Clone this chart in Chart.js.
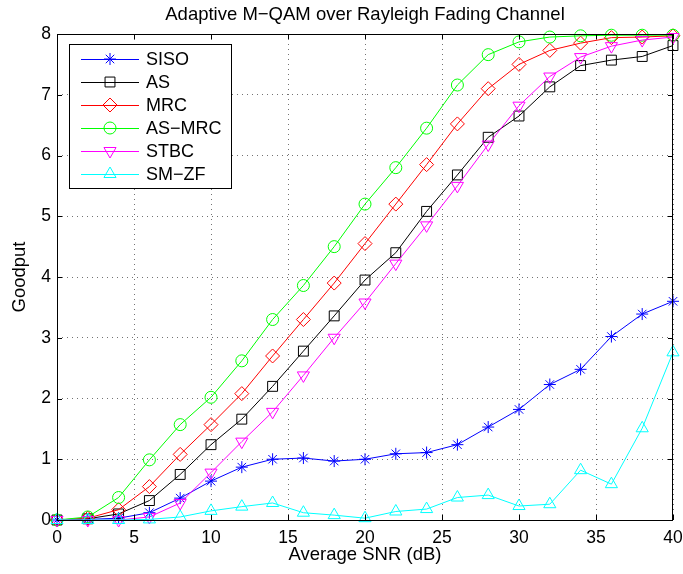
<!DOCTYPE html>
<html>
<head>
<meta charset="utf-8">
<script src="https://cdn.jsdelivr.net/npm/chart.js@4.4.1/dist/chart.umd.min.js"></script>
<style>
  html, body { margin: 0; padding: 0; background: #fff; }
  #wrap { width: 683px; height: 574px; }
</style>
</head>
<body>
<div id="wrap"><canvas id="cv" width="683" height="574"></canvas></div>
<script>
const snr = [0, 2, 4, 6, 8, 10, 12, 14, 16, 18, 20, 22, 24, 26, 28, 30, 32, 34, 36, 38, 40];

const siso  = [0, 0.01, 0.03, 0.12, 0.36, 0.64, 0.87, 1.0, 1.02, 0.97, 1.0, 1.09, 1.11, 1.24, 1.53, 1.82, 2.23, 2.48, 3.02, 3.39, 3.6];
const as    = [0, 0.02, 0.1, 0.32, 0.75, 1.24, 1.66, 2.2, 2.78, 3.36, 3.95, 4.4, 5.08, 5.68, 6.3, 6.65, 7.13, 7.48, 7.57, 7.63, 7.81];
const mrc   = [0, 0.03, 0.17, 0.55, 1.08, 1.57, 2.08, 2.7, 3.3, 3.9, 4.55, 5.2, 5.85, 6.52, 7.1, 7.5, 7.73, 7.85, 7.94, 7.95, 7.97];
const asMrc = [0, 0.05, 0.37, 0.99, 1.57, 2.02, 2.62, 3.3, 3.86, 4.5, 5.2, 5.8, 6.45, 7.16, 7.66, 7.87, 7.95, 7.97, 7.98, 7.98, 7.98];
const stbc  = [0, 0, 0, 0.05, 0.28, 0.78, 1.29, 1.78, 2.38, 3.0, 3.58, 4.22, 4.85, 5.5, 6.18, 6.82, 7.3, 7.62, 7.8, 7.9, 7.95];
const smZf  = [0, 0, 0, 0.01, 0.05, 0.15, 0.22, 0.28, 0.12, 0.08, 0.03, 0.14, 0.18, 0.37, 0.41, 0.23, 0.26, 0.82, 0.59, 1.51, 2.76];

const xTicks = [0, 5, 10, 15, 20, 25, 30, 35, 40];
const yTicks = [0, 1, 2, 3, 4, 5, 6, 7, 8];

const titleText = 'Adaptive M\u2212QAM over Rayleigh Fading Channel';
const FONT = "'Liberation Sans', Arial, Helvetica, sans-serif";

function series(label, data, color, style, radius, rotation, idx) {
  return {
    label: label,
    data: snr.map((x, i) => ({ x: x, y: data[i] })),
    borderColor: color,
    backgroundColor: color,
    pointBorderColor: color,
    pointBackgroundColor: 'rgba(0,0,0,0)',
    borderWidth: 1,
    pointBorderWidth: 1,
    pointStyle: style,
    pointRadius: radius,
    pointRotation: rotation,
    pointHoverRadius: radius,
    tension: 0,
    clip: false,
    order: -idx
  };
}

const datasets = [
  series('SISO', siso, '#0000ff', 'star', 6, 0, 0),
  series('AS', as, '#000000', 'rect', 7, 0, 1),
  series('MRC', mrc, '#ff0000', 'rectRot', 7, 0, 2),
  series('AS\u2212MRC', asMrc, '#00ff00', 'circle', 6, 0, 3),
  series('STBC', stbc, '#ff00ff', 'triangle', 7, 180, 4),
  series('SM\u2212ZF', smZf, '#00ffff', 'triangle', 7, 0, 5)
];

// title over the plot box, frame, inward ticks and the legend box
const framePlugin = {
  id: 'frame',
  afterDraw(chart) {
    const ctx = chart.ctx;
    const a = chart.chartArea;
    const xs = chart.scales.x, ys = chart.scales.y;
    ctx.save();
    ctx.fillStyle = '#000';
    ctx.font = '18.5px ' + FONT;
    ctx.textAlign = 'center';
    ctx.textBaseline = 'middle';
    ctx.fillText(titleText, (a.left + a.right) / 2, 15);

    ctx.strokeStyle = '#000';
    ctx.lineWidth = 1;
    ctx.setLineDash([]);
    ctx.strokeRect(a.left + 0.5, a.top + 0.5, a.right - a.left - 1, a.bottom - a.top);
    const tl = 5;
    ctx.beginPath();
    xTicks.forEach(v => {
      const px = Math.round(xs.getPixelForValue(v)) + 0.5;
      ctx.moveTo(px, a.bottom); ctx.lineTo(px, a.bottom - tl);
      ctx.moveTo(px, a.top); ctx.lineTo(px, a.top + tl);
    });
    yTicks.forEach(v => {
      const py = Math.round(ys.getPixelForValue(v)) + 0.5;
      ctx.moveTo(a.left, py); ctx.lineTo(a.left + tl, py);
      ctx.moveTo(a.right, py); ctx.lineTo(a.right - tl, py);
    });
    ctx.stroke();

    // legend
    const lx = 69, ly = 44, lw = 162, lh = 144;
    ctx.fillStyle = '#fff';
    ctx.fillRect(lx, ly, lw, lh);
    ctx.strokeRect(lx + 0.5, ly + 0.5, lw, lh);
    ctx.font = '18px ' + FONT;
    ctx.textBaseline = 'middle';
    ctx.textAlign = 'left';
    chart.data.datasets.forEach((ds, i) => {
      const y = 59 + i * 23;
      ctx.strokeStyle = ds.borderColor;
      ctx.beginPath();
      ctx.moveTo(81, y + 0.5); ctx.lineTo(139, y + 0.5);
      ctx.stroke();
      ctx.fillStyle = 'rgba(0,0,0,0)';
      Chart.helpers.drawPoint(ctx, {
        pointStyle: ds.pointStyle, radius: ds.pointRadius,
        rotation: ds.pointRotation, borderWidth: 1
      }, 110, y);
      ctx.fillStyle = '#000';
      ctx.fillText(ds.label, 146, y + 1);
    });
    ctx.restore();
  }
};

new Chart(document.getElementById('cv').getContext('2d'), {
  type: 'line',
  data: { datasets: datasets },
  options: {
    responsive: false,
    animation: false,
    events: [],
    layout: { padding: { left: 0, right: 10, top: 34, bottom: 0 } },
    plugins: {
      legend: { display: false },
      tooltip: { enabled: false },
      title: { display: false }
    },
    scales: {
      x: {
        type: 'linear',
        min: 0, max: 40,
        afterBuildTicks: s => { s.ticks = xTicks.map(v => ({ value: v })); },
        afterFit: s => { s.height = 54; s.paddingLeft = 0; s.paddingRight = 0; },
        ticks: { color: '#000', font: { family: FONT, size: 17.5 }, padding: 8, maxRotation: 0 },
        grid: { color: 'rgba(0,0,0,0.55)', drawTicks: false, lineWidth: 1 },
        border: { display: false, dash: [1, 4] },
        title: {
          display: true, text: 'Average SNR (dB)', color: '#000',
          font: { family: FONT, size: 18.5 }, padding: { top: 0, bottom: 8 }
        }
      },
      y: {
        type: 'linear',
        min: 0, max: 8,
        afterBuildTicks: s => { s.ticks = yTicks.map(v => ({ value: v })); },
        afterFit: s => { s.width = 57; s.paddingTop = 0; s.paddingBottom = 0; },
        ticks: { color: '#000', font: { family: FONT, size: 17.5 }, padding: 6 },
        grid: { color: 'rgba(0,0,0,0.55)', drawTicks: false, lineWidth: 1 },
        border: { display: false, dash: [1, 4] },
        title: {
          display: true, text: 'Goodput', color: '#000',
          font: { family: FONT, size: 18.5 }, padding: { top: 8.5, bottom: 0 }
        }
      }
    }
  },
  plugins: [framePlugin]
});
</script>
</body>
</html>
